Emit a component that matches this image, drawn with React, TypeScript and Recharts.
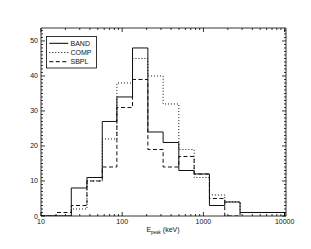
import React from "react";
import { ComposedChart, Line, XAxis, YAxis } from "recharts";

// Bin edges (keV) and counts per bin (last entry closes the histogram)
const binEdges = [10, 15.3, 23.6, 36.8, 56.8, 86, 134, 207, 319, 498, 769, 1186, 1832, 2826, 10000];
const bandCounts = [0, 0, 8, 11, 27, 34, 48, 24, 21, 13, 12, 3, 4, 1, 0];
const compCounts = [0, 0, 2, 10, 22, 38, 45, 40, 32, 19, 11, 6, 4, 1, 0];
const sbplCounts = [0, 1, 3, 10, 14, 31, 39, 19, 14, 17, 12, 5, 0, 1, 0];
const seriesNames = ["BAND", "COMP", "SBPL"];

const xMajor = [10, 100, 1000, 10000];
const xTicks: number[] = [];
[10, 100, 1000].forEach((d) => {
  for (let k = 1; k <= 9; k++) xTicks.push(d * k);
});
xTicks.push(10000);
const yTicks: number[] = [];
for (let v = 0; v <= 53; v++) yTicks.push(v);
const yMajor = [0, 10, 20, 30, 40, 50];

const data = binEdges.map((e, i) => ({
  e,
  band: bandCounts[i],
  comp: compCounts[i],
  sbpl: sbplCounts[i],
}));

const W = 303;
const H = 241;
const L = 33;
const T = 20;
const PW = 245;
const PH = 188;
const R = L + PW;
const B = T + PH;
const FONT = "'Liberation Sans', Arial, Helvetica, sans-serif";

const XTick = (props: any) => {
  const x = props.payload.coordinate;
  const v = props.payload.value;
  const major = xMajor.includes(v);
  const len = major ? 4 : 2;
  return (
    <g>
      <line x1={x} x2={x} y1={B} y2={B - len} stroke="#000" strokeWidth={0.8} />
      <line x1={x} x2={x} y1={T} y2={T + len} stroke="#000" strokeWidth={0.8} />
      {major && (
        <text x={x} y={B + 7.5} textAnchor="middle" fontSize={7} fontFamily={FONT} fill="#111">
          {v}
        </text>
      )}
    </g>
  );
};

const YTick = (props: any) => {
  const y = props.payload.coordinate;
  const v = props.payload.value;
  const major = yMajor.includes(v);
  const len = major ? 4 : 2;
  return (
    <g>
      <line x1={L} x2={L + len} y1={y} y2={y} stroke="#000" strokeWidth={0.8} />
      <line x1={R} x2={R - len} y1={y} y2={y} stroke="#000" strokeWidth={0.8} />
      {major && (
        <text x={L - 3} y={y + 2.5} textAnchor="end" fontSize={7} fontFamily={FONT} fill="#111">
          {v}
        </text>
      )}
    </g>
  );
};

const XTitle = () => (
  <text x={155} y={224} textAnchor="middle" fontSize={7} fontFamily={FONT} fill="#111">
    E
    <tspan fontSize={4.5} dy={1.8}>peak</tspan>
    <tspan dy={-1.8}> (keV)</tspan>
  </text>
);

const dashes = [undefined, "1 2", "4 2.5"];

const LegendBox = () => (
  <svg width={W} height={H} style={{ position: "absolute", left: 0, top: 0, pointerEvents: "none" }}>
    <rect x={38.5} y={28.5} width={50} height={31.5} fill="#fff" stroke="#000" strokeWidth={0.8} />
    {seriesNames.map((n, i) => {
      const cy = 35.3 + i * 9.2;
      return (
        <g key={n}>
          <line x1={41.3} x2={60.3} y1={cy} y2={cy} stroke="#000" strokeWidth={1} strokeDasharray={dashes[i]} />
          <text x={62.5} y={cy + 2.5} fontSize={7} fontFamily={FONT} fill="#111">
            {n}
          </text>
        </g>
      );
    })}
  </svg>
);

const AX = { stroke: "#000", strokeWidth: 0.8 };

export default function App() {
  return (
    <div style={{ position: "relative", width: W, height: H }}>
      <ComposedChart
        width={W}
        height={H}
        data={data}
        margin={{ top: T - 10, left: L - 20, right: W - R - 10, bottom: H - B - 20 }}
      >
        <XAxis
          dataKey="e"
          type="number"
          scale="log"
          domain={[10, 10400]}
          allowDataOverflow
          ticks={xTicks}
          interval={0}
          tick={XTick}
          tickLine={false}
          axisLine={AX}
          height={20}
          label={{ content: XTitle }}
        />
        <XAxis
          xAxisId="top"
          orientation="top"
          dataKey="e"
          type="number"
          scale="log"
          domain={[10, 10400]}
          allowDataOverflow
          ticks={xMajor}
          tick={false}
          tickLine={false}
          axisLine={AX}
          height={10}
        />
        <YAxis
          type="number"
          domain={[0, 53.7]}
          allowDataOverflow
          ticks={yTicks}
          interval={0}
          tick={YTick}
          tickLine={false}
          axisLine={AX}
          width={20}
        />
        <YAxis
          yAxisId="right"
          orientation="right"
          type="number"
          domain={[0, 53.7]}
          ticks={yMajor}
          tick={false}
          tickLine={false}
          axisLine={AX}
          width={10}
        />
        <Line dataKey="band" type="stepAfter" stroke="#111" strokeWidth={1} dot={false} isAnimationActive={false} />
        <Line dataKey="comp" type="stepAfter" stroke="#111" strokeWidth={1} strokeDasharray="1 2" dot={false} isAnimationActive={false} />
        <Line dataKey="sbpl" type="stepAfter" stroke="#111" strokeWidth={1} strokeDasharray="4 2.5" dot={false} isAnimationActive={false} />
      </ComposedChart>
      <LegendBox />
    </div>
  );
}
